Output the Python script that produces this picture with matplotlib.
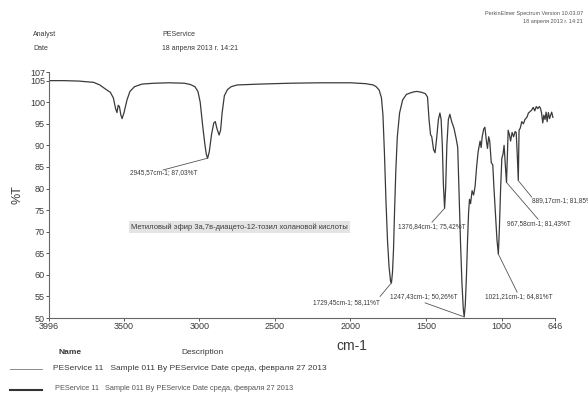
"""IR spectrum (PerkinElmer printout) recreation."""

import matplotlib
matplotlib.use("Agg")
import matplotlib.pyplot as plt

plt.rcParams["font.family"] = ["Liberation Sans", "DejaVu Sans"]

# spectrum: wavenumber (cm-1) and %T
wavenumber = [
    3996, 3900, 3800, 3700, 3660, 3620, 3590, 3570, 3555, 3546, 3538, 3530,
    3520, 3512, 3500, 3480, 3460, 3430, 3380, 3300, 3200, 3100, 3060, 3030,
    3010, 2995, 2980, 2965, 2955, 2946, 2935, 2920, 2905, 2895, 2885, 2870,
    2860, 2850, 2835, 2815, 2790, 2750, 2600, 2400, 2200, 2000, 1900, 1850,
    1830, 1810, 1795, 1785, 1775, 1765, 1755, 1745, 1735, 1729, 1722, 1715,
    1708, 1700, 1690, 1675, 1655, 1630, 1600, 1580, 1560, 1530, 1505, 1490,
    1480, 1470, 1462, 1450, 1440, 1430, 1418, 1408, 1400, 1392, 1385, 1377,
    1370, 1362, 1352, 1342, 1330, 1315, 1300, 1290, 1282, 1272, 1262, 1253,
    1247, 1240, 1232, 1225, 1218, 1212, 1205, 1195, 1185, 1175, 1165, 1155,
    1142, 1135, 1128, 1118, 1110, 1100, 1093, 1085, 1078, 1068, 1058, 1050,
    1040, 1030, 1021, 1014, 1006, 998, 990, 983, 976, 967, 962, 956,
    948, 940, 930, 920, 910, 903, 896, 889, 884, 876, 866, 855,
    845, 832, 822, 812, 800, 790, 780, 770, 760, 750, 742, 735,
    727, 720, 712, 705, 698, 690, 682, 675, 668, 660,
]
transmittance = [
    105.0, 105.0, 104.9, 104.6, 104.0, 103.0, 102.3, 101.0, 98.5, 97.6, 99.3, 99.0,
    97.0, 96.2, 97.5, 100.5, 102.5, 103.6, 104.2, 104.4, 104.5, 104.4, 104.1, 103.6,
    102.5, 100.0, 95.0, 90.5, 88.0, 87.0, 88.5, 92.5, 95.2, 95.5, 94.0, 92.4,
    93.5, 97.5, 101.5, 102.9, 103.6, 104.0, 104.2, 104.4, 104.5, 104.5, 104.3, 104.0,
    103.6, 102.8, 101.0, 97.0, 88.0, 77.0, 68.0, 62.0, 58.6, 58.1, 60.5, 66.0,
    75.0, 84.0, 92.0, 97.5, 100.5, 101.8, 102.2, 102.4, 102.5, 102.3, 102.0, 101.2,
    96.0, 92.5, 92.0, 89.0, 88.3, 91.5, 96.0, 97.5, 96.0, 90.0, 81.0, 75.4,
    80.0, 90.0, 96.0, 97.2, 95.5, 94.0, 91.5, 89.5, 80.0, 68.0, 58.0, 52.0,
    50.3, 53.0, 60.0, 68.0, 74.5, 77.5, 76.5, 79.5, 78.5, 80.5, 85.0, 88.5,
    91.0, 89.5, 92.0, 93.8, 94.2, 91.0, 89.3, 92.0, 91.0, 86.0, 85.5, 80.0,
    74.0, 68.0, 64.8, 71.0, 80.0, 87.0, 88.0, 90.0, 86.0, 81.4, 87.0, 93.5,
    92.5, 91.0, 93.0, 92.0, 93.2, 93.0, 88.0, 81.9, 93.5, 94.0, 95.5, 95.0,
    96.0, 96.5, 97.5, 97.8, 98.2, 98.8, 98.0, 99.0, 98.5, 99.0, 98.6, 97.5,
    95.2, 97.0, 96.0, 97.7, 95.5, 97.6, 96.2, 97.0, 97.7, 96.5,
]

# peak labels as printed
peak_wn = [2945.57, 1729.45, 1247.43, 1376.84, 1021.21, 967.58, 889.17]
peak_t = [87.03, 58.11, 50.26, 75.42, 64.81, 81.43, 81.85]
label_wn = [3460, 1804, 1738, 1685, 1109, 963, 797]
label_t = [83.8, 53.6, 54.9, 71.1, 54.9, 72.0, 77.3]
label_anchor = ["left", "right", "left", "left", "left", "left", "left"]
line_end_wn = [3241, 1804, 1506, 1460, 897, 758, 800]
line_end_t = [84.3, 55.0, 53.5, 72.2, 56.0, 72.9, 78.0]

x_ticks = [3996, 3500, 3000, 2500, 2000, 1500, 1000, 646]
y_ticks = [50, 55, 60, 65, 70, 75, 80, 85, 90, 95, 100, 105, 107]

ink = "#3a3a3a"

fig = plt.figure(figsize=(5.88, 4.0), dpi=100)
ax = fig.add_axes([49 / 588, 1 - 318 / 400, 506 / 588, 246 / 400])

ax.plot(wavenumber, transmittance, color=ink, lw=0.9)
ax.set_xlim(3996, 646)
ax.set_ylim(50, 107)
ax.set_xticks(x_ticks)
ax.set_xticklabels([str(v) for v in x_ticks])
ax.set_yticks(y_ticks)
ax.tick_params(axis="both", labelsize=6.5, colors=ink, length=2, width=0.6, pad=1)
for s in ["top", "right"]:
    ax.spines[s].set_visible(False)
for s in ["left", "bottom"]:
    ax.spines[s].set_color("#666666")
    ax.spines[s].set_linewidth(0.8)

ax.set_ylabel("%T", fontsize=9, color=ink)
ax.yaxis.set_label_coords(-0.05, 0.5)
ax.set_xlabel("cm-1", fontsize=10, color=ink)
ax.xaxis.set_label_coords(0.599, -0.085)

for pw, pt, lw_, lt, ew, et, ha in zip(peak_wn, peak_t, label_wn, label_t,
                                       line_end_wn, line_end_t, label_anchor):
    txt = f"{pw:.2f}cm-1; {pt:.2f}%T".replace(".", ",")
    ax.plot([pw, ew], [pt, et], color="#555555", lw=0.6, clip_on=False)
    ax.text(lw_, lt, txt, fontsize=4.7, color=ink, ha=ha, va="center",
            clip_on=False)

ax.text(3453, 71.1, "Метиловый эфир 3а,7в-диацето-12-тозил холановой кислоты",
        fontsize=5.4, color=ink, ha="left", va="center",
        bbox=dict(boxstyle="square,pad=0.25", fc="#e4e4e4", ec="none"))

# header
fig.text(33 / 588, 1 - 35 / 400, "Analyst", fontsize=5, color=ink, va="center")
fig.text(33 / 588, 1 - 48 / 400, "Date", fontsize=5, color=ink, va="center")
fig.text(162 / 588, 1 - 35 / 400, "PEService", fontsize=5, color=ink, va="center")
fig.text(162 / 588, 1 - 48 / 400, "18 апреля 2013 г. 14:21", fontsize=5,
         color=ink, va="center")
fig.text(583 / 588, 1 - 14 / 400, "PerkinElmer Spectrum Version 10.03.07",
         fontsize=4, color="#555555", ha="right", va="center")
fig.text(583 / 588, 1 - 21 / 400, "18 апреля 2013 г. 14:21", fontsize=4,
         color="#555555", ha="right", va="center")

# legend block
fig.text(70 / 588, 1 - 352 / 400, "Name", fontsize=6, color=ink, ha="center",
         va="center", fontweight="bold")
fig.text(202 / 588, 1 - 352 / 400, "Description", fontsize=6, color=ink,
         ha="center", va="center")
fig.lines.append(plt.Line2D([10 / 588, 42 / 588], [1 - 369 / 400] * 2,
                            transform=fig.transFigure, color="#777777", lw=0.6))
fig.text(53 / 588, 1 - 368 / 400,
         "PEService 11   Sample 011 By PEService Date среда, февраля 27 2013",
         fontsize=6.0, color=ink, va="center")
fig.lines.append(plt.Line2D([10 / 588, 42 / 588], [1 - 390 / 400] * 2,
                            transform=fig.transFigure, color="#333333", lw=1.5))
fig.text(55 / 588, 1 - 389 / 400,
         "PEService 11   Sample 011 By PEService Date среда, февраля 27 2013",
         fontsize=5.3, color="#555555", va="center")

fig.savefig("out.png", dpi=100, facecolor="white")
plt.close(fig)
